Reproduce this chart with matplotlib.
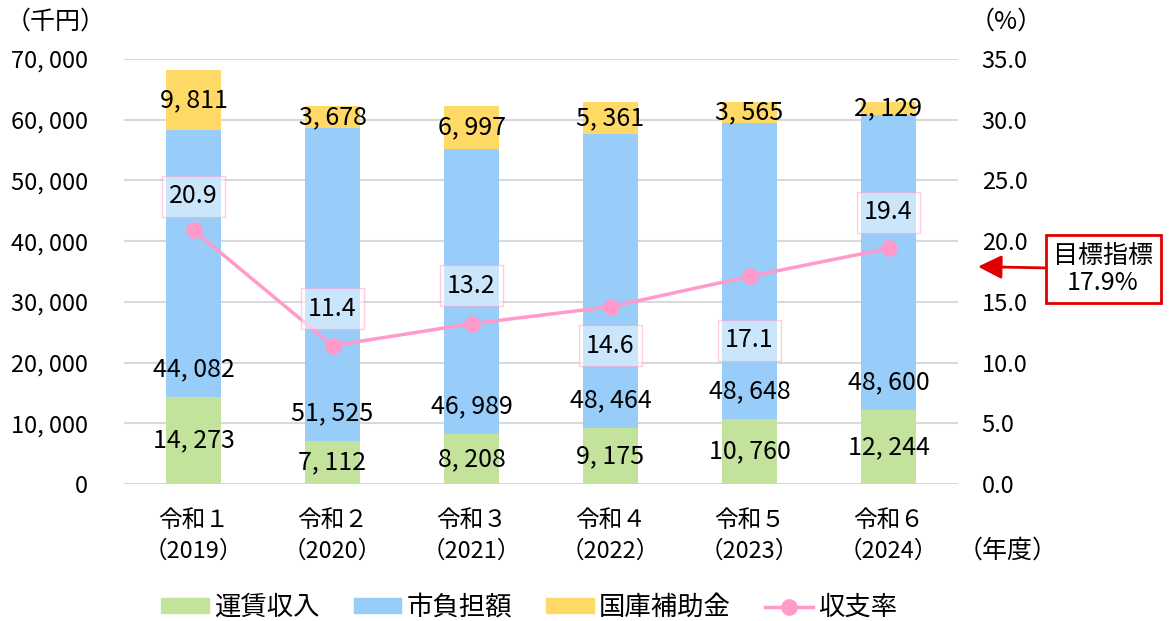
import matplotlib

matplotlib.use("Agg")
import matplotlib.pyplot as plt
from matplotlib.lines import Line2D
from matplotlib.patches import Patch

plt.rcParams["font.family"] = ["Noto Sans CJK JP", "DejaVu Sans"]

years = ["令和１\n（2019）", "令和２\n（2020）", "令和３\n（2021）",
         "令和４\n（2022）", "令和５\n（2023）", "令和６\n（2024）"]
fare_income = [14273, 7112, 8208, 9175, 10760, 12244]
city_share = [44082, 51525, 46989, 48464, 48648, 48600]
state_subsidy = [9811, 3678, 6997, 5361, 3565, 2129]
recovery_rate = [20.9, 11.4, 13.2, 14.6, 17.1, 19.4]
target_rate = 17.9

GREEN = "#c3e29c"
BLUE = "#97cdf8"
YELLOW = "#ffd966"
PINK = "#ff9acb"
GRID = "#d9d9d9"

# pixel offsets of the rate labels relative to their points (+ = above)
rate_offsets = [34, 37, 38, -39, -64, 36]


def fmt(v):
    return f"{v:,}".replace(",", ", ")


fig = plt.figure(figsize=(11.73, 6.21), dpi=100)
ax = fig.add_axes([124 / 1173, 137 / 621, 834 / 1173, 425 / 621])
ax2 = ax.twinx()

x = range(len(years))
width = 0.4
bottom2 = [a + b for a, b in zip(fare_income, city_share)]
ax.bar(x, fare_income, width, color=GREEN, zorder=2)
ax.bar(x, city_share, width, bottom=fare_income, color=BLUE, zorder=2)
ax.bar(x, state_subsidy, width, bottom=bottom2, color=YELLOW, zorder=2)

for i in x:
    ax.text(i, fare_income[i] / 2, fmt(fare_income[i]), ha="center", va="center", fontsize=18, zorder=3)
    ax.annotate(fmt(city_share[i]), (i, fare_income[i]), xytext=(0, 20), textcoords="offset points",
                ha="center", va="center", fontsize=18, zorder=3)
    ax.text(i, bottom2[i] + state_subsidy[i] / 2, fmt(state_subsidy[i]), ha="center", va="center",
            fontsize=18, zorder=3)

ax.set_xlim(-0.5, len(years) - 0.5)
ax.set_ylim(0, 70000)
ax.set_yticks(range(0, 70001, 10000))
ax.set_yticklabels([fmt(v) for v in range(0, 70001, 10000)])
ax.grid(axis="y", color=GRID, linewidth=1.5, zorder=0)
ax.set_axisbelow(True)
ax.set_xticks(list(x))
ax.set_xticklabels(years, fontsize=18, linespacing=1.45)
ax.tick_params(axis="both", length=0, labelsize=17)
ax.tick_params(axis="y", pad=26)
ax.tick_params(axis="x", pad=18)
for s in ax.spines.values():
    s.set_visible(False)

ax2.plot(list(x), recovery_rate, color=PINK, linewidth=2.5, marker="o", markersize=11, zorder=4)
ax2.set_ylim(0, 35)
ax2.set_yticks([i * 5 for i in range(8)])
ax2.set_yticklabels([f"{i * 5:.1f}" for i in range(8)])
ax2.tick_params(axis="y", length=0, labelsize=17, pad=17)
for s in ax2.spines.values():
    s.set_visible(False)

for i, v in enumerate(recovery_rate):
    ax2.annotate(f"{v:.1f}", (i, v), xytext=(0, rate_offsets[i] * 0.72), textcoords="offset points",
                 ha="center", va="center", fontsize=18, zorder=5,
                 bbox=dict(boxstyle="square,pad=0.3", fc="white", alpha=0.5, ec=PINK, lw=1))

ax2.annotate(f"目標指標\n{target_rate}%", xy=(1.024, target_rate), xycoords=("axes fraction", "data"),
             xytext=(1103, 621 - 269), textcoords="figure pixels", ha="center", va="center",
             fontsize=18, linespacing=1.05, annotation_clip=False,
             bbox=dict(boxstyle="square,pad=0.3", fc="white", ec="#e00000", lw=2),
             arrowprops=dict(arrowstyle="-|>,head_length=0.8,head_width=0.4", color="#e00000", lw=2,
                             shrinkA=0, shrinkB=0))

fig.text(6, 621 - 22, "（千円）", transform=None, fontsize=18, va="center", ha="left")
fig.text(970, 621 - 22, "（%）", transform=None, fontsize=18, va="center", ha="left")
fig.text(958, 621 - 551, "（年度）", transform=None, fontsize=18, va="center", ha="left")

handles = [Patch(color=GREEN, label="運賃収入"), Patch(color=BLUE, label="市負担額"),
           Patch(color=YELLOW, label="国庫補助金"),
           Line2D([], [], color=PINK, lw=2.5, marker="o", markersize=11, label="収支率")]
fig.legend(handles=handles, loc="center", bbox_to_anchor=(0.451, 0.022), ncol=4, frameon=False,
           fontsize=19, handlelength=1.8, handleheight=0.45, columnspacing=1.3, handletextpad=0.2)

fig.savefig("out.png", dpi=100)
